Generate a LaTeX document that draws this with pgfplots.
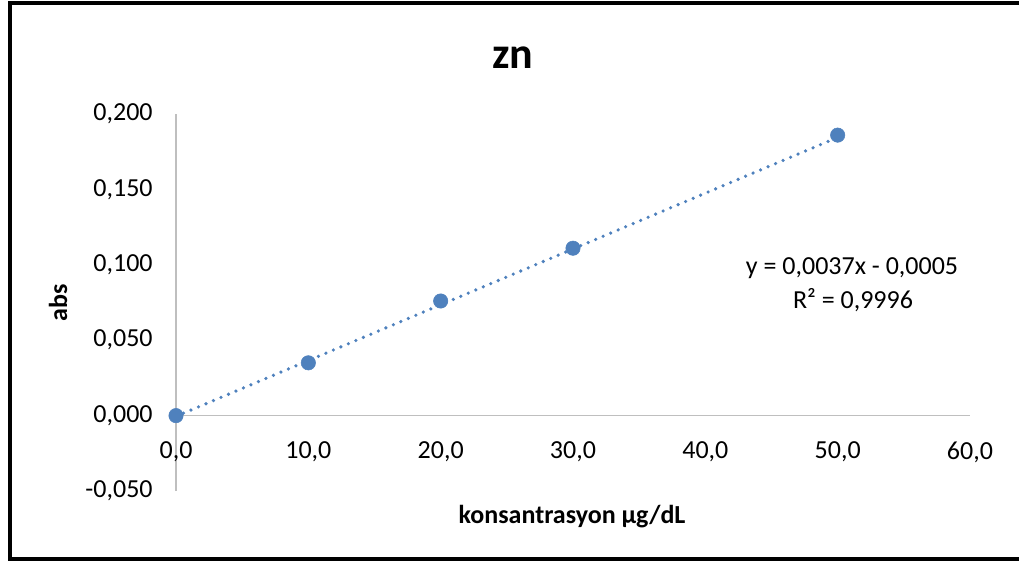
\documentclass[border=0pt]{standalone}
\usepackage{fontspec}
\setmainfont{Carlito}
\usepackage{pgfplots}
\pgfplotsset{compat=1.18}
\definecolor{excelblue}{RGB}{79,129,189}
\definecolor{axgray}{RGB}{191,191,191}
\begin{document}
\begin{tikzpicture}
\useasboundingbox (0,0) rectangle (764.25pt,421.5pt);
\draw[line width=3pt] (764.25pt,419.6pt) -- (7.5pt,419.6pt) -- (7.5pt,1.9pt) -- (764.25pt,1.9pt);
\begin{axis}[at={(132pt,53.25pt)}, anchor=south west, scale only axis,
  width=595.5pt, height=282.75pt,
  xmin=0, xmax=60, ymin=-0.05, ymax=0.2,
  axis lines=middle, axis line style={draw=axgray, line width=1.2pt, -},
  xtick={0,10,20,30,40,50,60}, ytick={-0.05,0,0.05,0.1,0.15,0.2},
  major tick length=0pt,
  hide obscured x ticks=false, hide obscured y ticks=false,
  /pgf/number format/assume math mode=true,
  xticklabel={\pgfmathprintnumber[fixed,fixed zerofill,precision=1,use comma,assume math mode=true]{\tick}},
  yticklabel={\pgfmathprintnumber[fixed,fixed zerofill,precision=3,use comma,assume math mode=true]{\tick}},
  ticklabel style={font=\fontsize{19.5}{23}\selectfont},
  xticklabel style={anchor=north, yshift=-16pt},
  yticklabel style={anchor=east, xshift=-14pt},
  clip=false,
]
\addplot[excelblue, line width=2.7pt, line cap=round, dash pattern=on 0pt off 6.1pt] coordinates {(0,-0.0005) (50,0.1845)};
\addplot[only marks, mark=*, mark size=5.4pt, mark options={draw=excelblue, fill=excelblue}] coordinates {(0,0) (10,0.035) (20,0.076) (30,0.111) (50,0.186)};
\end{axis}
\node[font=\fontsize{33}{38}\selectfont\bfseries] at (384.75pt,378pt) {zn};
\node[font=\fontsize{19.5}{23}\selectfont\bfseries] at (429pt,33.75pt) {konsantrasyon µg/dL};
\node[font=\fontsize{19.5}{23}\selectfont\bfseries, rotate=90] at (43.5pt,194.25pt) {abs};
\node[font=\fontsize{19.5}{23}\selectfont] at (639pt,220.5pt) {y = 0,0037x - 0,0005};
\node[font=\fontsize{19.5}{23}\selectfont] at (639.75pt,196.5pt) {R² = 0,9996};
\end{tikzpicture}
\end{document}
